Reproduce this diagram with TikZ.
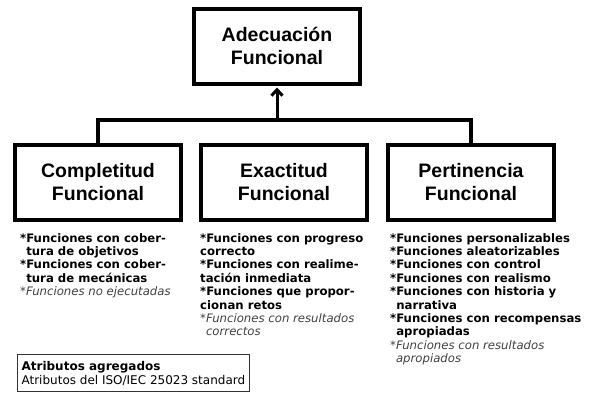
\documentclass[tikz,border=0pt]{standalone}
\usepackage{fontspec}
\setmainfont{DejaVu Sans}
\newfontfamily\headfont{Liberation Sans}
\usetikzlibrary{arrows.meta}
\tikzset{
  caja/.style={draw, line width=4pt, minimum width=166pt, minimum height=75pt, inner sep=0pt, align=center, font=\headfont\bfseries\fontsize{19.5}{23}\selectfont},
  lista/.style={anchor=north west, inner sep=0pt, align=left, font=\bfseries\fontsize{11.7}{13.4}\selectfont},
  leyenda/.style={draw=black!80, line width=1.2pt, anchor=north west, inner xsep=4pt, inner ysep=6.5pt, align=left, font=\fontsize{12}{14}\selectfont}
}
\newcommand{\nota}[1]{{\mdseries\itshape\color{black!75}#1}}
\begin{document}
\begin{tikzpicture}[x=1pt, y=-1pt, >={Straight Barb[length=6pt,width=11pt]}]
\useasboundingbox (0,0) rectangle (592,394);
\node[caja] (adec) at (277,46) {Adecuación\\Funcional};
\node[caja] (comp) at (98,182.5) {Completitud\\Funcional};
\node[caja] (exac) at (284,182.5) {Exactitud\\Funcional};
\node[caja] (pert) at (471,182.5) {Pertinencia\\Funcional};
\coordinate (union) at (277,120);
\draw[line width=4.5pt] (comp.north) |- (union) -| (pert.north);
\draw[line width=3pt, ->, shorten >=2pt] (union) -- (adec.south);
\node[lista] (lcomp) at (20,233) {*Funciones con cober-\\\phantom{*}tura de objetivos\\*Funciones con cober-\\\phantom{*}tura de mecánicas\\\nota{*Funciones no ejecutadas}};
\node[lista] (lexac) at (200,233) {*Funciones con progreso\\correcto\\*Funciones con realime-\\tación inmediata\\*Funciones que propor-\\cionan retos\\\nota{*Funciones con resultados}\\\nota{\phantom{*}correctos}};
\node[lista] (lpert) at (390,233) {*Funciones personalizables\\*Funciones aleatorizables\\*Funciones con control\\*Funciones con realismo\\*Funciones con historia y\\\phantom{*}narrativa\\*Funciones con recompensas\\\phantom{*}apropiadas\\\nota{*Funciones con resultados}\\\nota{\phantom{*}apropiados}};
\node[leyenda] (ley) at (17,354) {\textbf{Atributos agregados}\\Atributos del ISO/IEC 25023 standard};
\end{tikzpicture}
\end{document}
